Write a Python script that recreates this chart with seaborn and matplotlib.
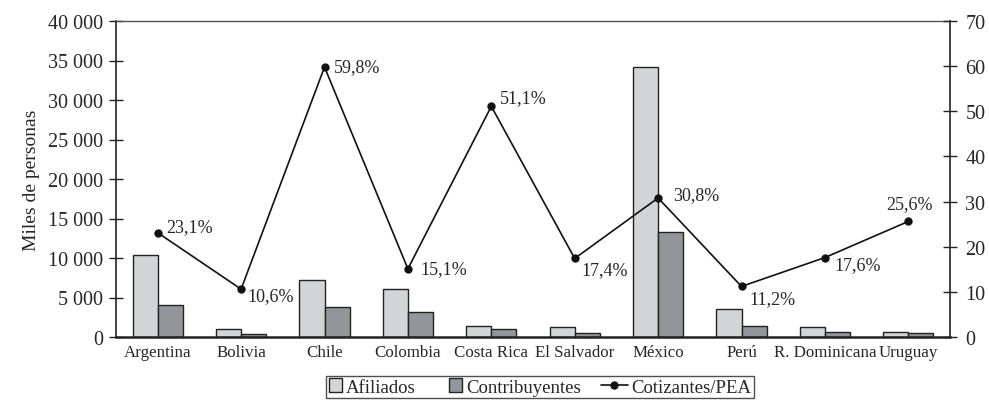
import numpy as np
import pandas as pd
import matplotlib
matplotlib.use("Agg")
import matplotlib.pyplot as plt
import matplotlib.patches as mpatches
import seaborn as sns
from matplotlib.ticker import FuncFormatter, MultipleLocator
from matplotlib.lines import Line2D
from matplotlib.legend_handler import HandlerLine2D

paises = ["Argentina", "Bolivia", "Chile", "Colombia", "Costa Rica", "El Salvador",
          "México", "Perú", "R. Dominicana", "Uruguay"]
afiliados = [10380, 1000, 7220, 6080, 1400, 1300, 34180, 3540, 1270, 680]
contribuyentes = [4050, 420, 3800, 3160, 1000, 550, 13290, 1430, 680, 500]
cotizantes_pea = [23.1, 10.6, 59.8, 15.1, 51.1, 17.4, 30.8, 11.2, 17.6, 25.6]
etiquetas = ["23,1%", "10,6%", "59,8%", "15,1%", "51,1%", "17,4%", "30,8%", "11,2%", "17,6%", "25,6%"]
series = ["Afiliados", "Contribuyentes"]

sns.set_style("white")
plt.rcParams["font.family"] = ["Liberation Serif", "DejaVu Serif"]
plt.rcParams["font.size"] = 13

df = pd.DataFrame({
    "pais": paises * 2,
    "valor": afiliados + contribuyentes,
    "serie": [series[0]] * len(paises) + [series[1]] * len(paises),
})

fig = plt.figure(figsize=(9.89, 4.14), dpi=100)
ax = fig.add_axes([116 / 989, 76 / 414, 834 / 989, 316 / 414])

sns.barplot(data=df, x="pais", y="valor", hue="serie", ax=ax,
            palette=["#d3d4d6", "#939598"], width=0.6, edgecolor="#222222",
            linewidth=1.0, saturation=1, legend=False)

ax.set_xlim(-0.5, len(paises) - 0.5)
ax.set_ylim(0, 40000)
ax.yaxis.set_major_locator(MultipleLocator(5000))
ax.yaxis.set_major_formatter(FuncFormatter(lambda v, p: f"{int(v):,}".replace(",", " ")))
ax.set_xlabel("")
ax.set_ylabel("Miles de personas", fontsize=14, labelpad=6)
ax.set_xticks(np.arange(len(paises)))
ax.set_xticklabels(paises, fontsize=12.2)
ax.tick_params(axis="x", length=0, pad=5)
ax.set_xticks(np.arange(len(paises) + 1) - 0.5, minor=True)
ax.tick_params(axis="x", which="minor", direction="inout", length=10, width=1.2, color="#222222")
ax.tick_params(axis="y", direction="inout", length=10, width=1.0, color="#222222", labelsize=14.5, pad=4)

for s in ["left", "right"]:
    ax.spines[s].set_color("#222222")
    ax.spines[s].set_linewidth(1.2)
ax.spines["bottom"].set_color("#222222")
ax.spines["bottom"].set_linewidth(1.8)
ax.spines["top"].set_color("#555555")
ax.spines["top"].set_linewidth(1.0)

ax2 = ax.twinx()
sns.lineplot(x=np.arange(len(paises)), y=cotizantes_pea, ax=ax2, color="#111111",
             marker="o", markersize=6, linewidth=1.2, markeredgewidth=0)
ax2.set_ylim(0, 70)
ax2.yaxis.set_major_locator(MultipleLocator(10))
ax2.tick_params(axis="y", direction="inout", length=10, width=1.0, color="#222222", labelsize=14.5, pad=6)
for s in ax2.spines.values():
    s.set_visible(False)

# offsets in pixels (x, y up)
offsets = [(9, 6), (6, -6), (9, 0), (13, 0), (9, 9), (7, -11), (15, 3), (8, -12), (10, -7), (1, 18)]
for i, (v, t) in enumerate(zip(cotizantes_pea, etiquetas)):
    ha = "center" if i == len(paises) - 1 else "left"
    ax2.annotate(t, (i, v), xytext=offsets[i], textcoords="offset pixels",
                 fontsize=13, ha=ha, va="center")


class LongLine(HandlerLine2D):
    # stretch the line handle to the left so the square patches stay tight
    def create_artists(self, legend, orig_handle, xdescent, ydescent, width, height, fontsize, trans):
        return super().create_artists(legend, orig_handle, xdescent + 1.0 * width, ydescent,
                                      width * 2.0, height, fontsize, trans)


handles = [
    mpatches.Rectangle((0, 0), 1, 1, facecolor="#d3d4d6", edgecolor="#222222"),
    mpatches.Rectangle((0, 0), 1, 1, facecolor="#939598", edgecolor="#222222"),
    Line2D([0], [0], color="#111111", marker="o", markersize=5, linewidth=1.2),
]
leg = fig.legend(handles, ["Afiliados", "Contribuyentes", "Cotizantes/PEA"],
                 loc="center", bbox_to_anchor=(540 / 989, 1 - 388 / 414), ncol=3, frameon=True,
                 fancybox=False, edgecolor="#222222", fontsize=13.5,
                 handlelength=0.7, handleheight=0.7, handletextpad=0.2, columnspacing=1.8,
                 borderpad=0.15, handler_map={Line2D: LongLine(numpoints=1)})
leg.get_frame().set_linewidth(1.0)

fig.savefig("out.png", dpi=100)
